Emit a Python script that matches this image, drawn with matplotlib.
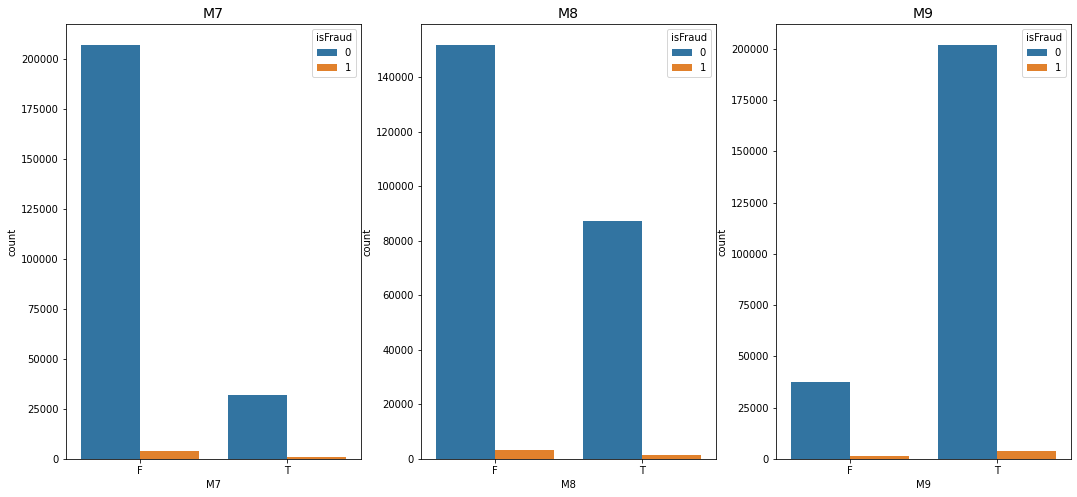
import matplotlib
matplotlib.use("Agg")
import matplotlib.pyplot as plt
import numpy as np

features = ["M7", "M8", "M9"]
categories = ["F", "T"]
counts_0 = {"M7": [207000, 32000], "M8": [152000, 87500], "M9": [37500, 202000]}
counts_1 = {"M7": [4000, 1000], "M8": [3300, 1500], "M9": [1500, 3700]}
colors = ["#3274a1", "#e1812c"]

fig = plt.figure(figsize=(1077/72, 497/72), dpi=72)
lefts = [66, 421, 776]
for i, f in enumerate(features):
    ax = fig.add_axes([lefts[i]/1077, 38/497, 295/1077, 435/497])
    x = np.arange(len(categories))
    ax.bar(x - 0.2, counts_0[f], width=0.4, color=colors[0], label="0")
    ax.bar(x + 0.2, counts_1[f], width=0.4, color=colors[1], label="1")
    ax.set_xticks(x)
    ax.set_xticklabels(categories)
    ax.set_xlim(-0.5, 1.5)
    ax.set_xlabel(f)
    ax.set_ylabel("count")
    ax.set_title(f, fontsize=14)
    ax.legend(title="isFraud", loc="upper right")
fig.savefig("out.png", dpi=72)
